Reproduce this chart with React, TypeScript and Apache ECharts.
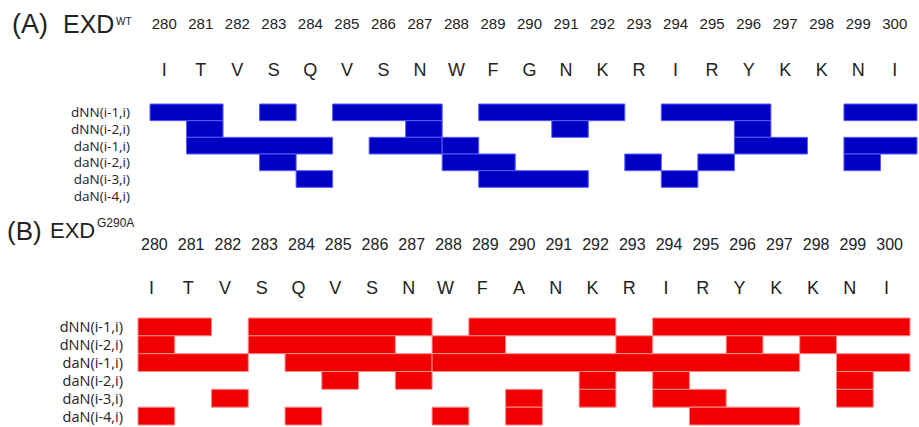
import { useEffect, useRef } from "react";
import * as echarts from "echarts";

// Residue numbering and sequences of the two constructs
const residues = ["280", "281", "282", "283", "284", "285", "286", "287", "288", "289", "290", "291", "292", "293", "294", "295", "296", "297", "298", "299", "300"];
const seqWT = ["I", "T", "V", "S", "Q", "V", "S", "N", "W", "F", "G", "N", "K", "R", "I", "R", "Y", "K", "K", "N", "I"];
const seqG290A = ["I", "T", "V", "S", "Q", "V", "S", "N", "W", "F", "A", "N", "K", "R", "I", "R", "Y", "K", "K", "N", "I"];

// NOE connectivity types (one row each)
const noeRows = ["dNN(i-1,i)", "dNN(i-2,i)", "daN(i-1,i)", "daN(i-2,i)", "daN(i-3,i)", "daN(i-4,i)"];

// Observed connectivities: [row index, first residue, last residue]
const wtSegments: [number, number, number][] = [
  [0, 280, 281], [0, 283, 283], [0, 285, 287], [0, 289, 292], [0, 294, 296], [0, 299, 300],
  [1, 281, 281], [1, 287, 287], [1, 291, 291], [1, 296, 296],
  [2, 281, 284], [2, 286, 287], [2, 288, 288], [2, 296, 297], [2, 299, 300],
  [3, 283, 283], [3, 288, 289], [3, 293, 293], [3, 295, 295], [3, 299, 299],
  [4, 284, 284], [4, 289, 291], [4, 294, 294],
];

const g290aSegments: [number, number, number][] = [
  [0, 280, 281], [0, 283, 287], [0, 289, 292], [0, 294, 300],
  [1, 280, 280], [1, 283, 286], [1, 288, 289], [1, 293, 293], [1, 296, 296], [1, 298, 298],
  [2, 280, 282], [2, 284, 287], [2, 288, 297], [2, 299, 300],
  [3, 285, 285], [3, 287, 287], [3, 292, 292], [3, 294, 294], [3, 299, 299],
  [4, 282, 282], [4, 290, 290], [4, 292, 292], [4, 294, 295], [4, 299, 299],
  [5, 280, 280], [5, 284, 284], [5, 288, 288], [5, 290, 290], [5, 295, 297],
];

const SANS = "'Liberation Sans', Arial, sans-serif";
const LABEL_FONT = "'Open Sans', sans-serif";
const TEXT = "#222";

function segmentSeries(data: [number, number, number][], xAxisIndex: number, yAxisIndex: number, fill: string, stroke: string) {
  return {
    type: "custom",
    xAxisIndex,
    yAxisIndex,
    data,
    encode: { x: [1, 2], y: 0 },
    renderItem: (_params: any, api: any) => {
      const row = api.value(0);
      const first = api.value(1);
      const last = api.value(2);
      const start = api.coord([first - 0.5, row]);
      const end = api.coord([last + 0.5, row]);
      const h = api.size([0, 1])[1];
      return {
        type: "rect",
        shape: { x: start[0], y: start[1] - h / 2, width: end[0] - start[0], height: h },
        style: { fill, stroke, lineWidth: 1 },
      };
    },
  };
}

function valueX(gridIndex: number) {
  return { type: "value", gridIndex, min: 279.5, max: 300.5, show: false };
}

function labelX(gridIndex: number, data: string[], offset: number, fontSize: number) {
  return {
    type: "category",
    gridIndex,
    position: "top",
    data,
    offset,
    axisLine: { show: false },
    axisTick: { show: false },
    axisLabel: { margin: 0, verticalAlign: "middle", color: TEXT, fontFamily: SANS, fontSize, interval: 0 },
  };
}

function rowY(gridIndex: number, show: boolean, fontSize: number, margin: number) {
  return {
    type: "category",
    gridIndex,
    data: noeRows,
    inverse: true,
    show,
    axisLine: { show: false },
    axisTick: { show: false },
    axisLabel: { margin, align: "right", color: TEXT, fontFamily: LABEL_FONT, fontSize, interval: 0 },
  };
}

export default function App() {
  const ref = useRef<HTMLDivElement>(null);

  useEffect(() => {
    if (!ref.current) return;
    const chart = echarts.init(ref.current, null, { renderer: "svg" });
    chart.setOption({
      animation: false,
      backgroundColor: "#fff",
      grid: [
        { left: 150, top: 104, width: 767, height: 100 },
        { left: 138, top: 318, width: 772, height: 107 },
        { left: 146, top: 104, width: 767, height: 100 },
        { left: 136, top: 318, width: 772, height: 107 },
        { left: 133, top: 318, width: 772, height: 107 },
      ],
      xAxis: [
        valueX(0),
        valueX(1),
        labelX(2, residues, 80.5, 15),
        labelX(2, seqWT, 34, 18),
        labelX(3, residues, 74, 16),
        labelX(4, seqG290A, 30.5, 18),
      ],
      yAxis: [
        rowY(0, true, 13.5, 20),
        rowY(1, true, 14.5, 15),
        rowY(2, false, 13, 0),
        rowY(3, false, 13, 0),
        rowY(4, false, 13, 0),
      ],
      graphic: [
        { type: "text", left: 12, top: 10, style: { text: "(A)", font: `27px ${SANS}`, fill: TEXT } },
        { type: "text", left: 63, top: 11, style: { text: "EXD", font: `25px ${SANS}`, fill: TEXT } },
        { type: "text", left: 116, top: 16, style: { text: "WT", font: `10px ${SANS}`, fill: TEXT } },
        { type: "text", left: 7, top: 218, style: { text: "(B)", font: `26px ${SANS}`, fill: TEXT } },
        { type: "text", left: 50, top: 219, style: { text: "EXD", font: `22px ${SANS}`, fill: TEXT } },
        { type: "text", left: 97, top: 217, style: { text: "G290A", font: `12px ${SANS}`, fill: TEXT } },
      ],
      series: [
        segmentSeries(wtSegments, 0, 0, "#0000c4", "#5a5aff"),
        segmentSeries(g290aSegments, 1, 1, "#f00000", "#ff8a8a"),
      ],
    });
    return () => chart.dispose();
  }, []);

  return (
    <div
      ref={ref}
      style={{ position: "fixed", left: 0, top: 0, width: 919, height: 427, background: "#fff" }}
    />
  );
}
